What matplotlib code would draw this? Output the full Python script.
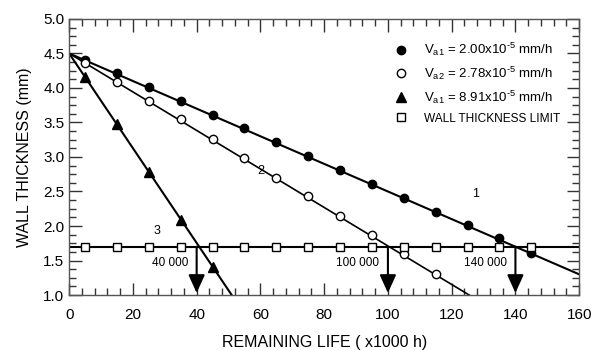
import matplotlib
matplotlib.use("Agg")
import matplotlib.pyplot as plt
from matplotlib.ticker import MultipleLocator

plt.rcParams['font.family'] = ['Liberation Sans', 'DejaVu Sans']
plt.rcParams['mathtext.fontset'] = 'custom'
plt.rcParams['mathtext.rm'] = 'Liberation Sans'
plt.rcParams['mathtext.it'] = 'Liberation Sans'

# data
x_pts = [5, 15, 25, 35, 45, 55, 65, 75, 85, 95, 105, 115, 125, 135, 145]
s1_y = [4.40, 4.21, 4.01, 3.81, 3.61, 3.42, 3.21, 3.01, 2.81, 2.61, 2.41, 2.21, 2.01, 1.82, 1.61]
s2_x = [5, 15, 25, 35, 45, 55, 65, 75, 85, 95, 105, 115]
s2_y = [4.36, 4.09, 3.81, 3.55, 3.26, 2.98, 2.70, 2.43, 2.15, 1.87, 1.59, 1.31]
s3_x = [5, 15, 25, 35, 45]
s3_y = [4.16, 3.48, 2.78, 2.09, 1.41]
limit_y = [1.7] * len(x_pts)

line1_x, line1_y = [0, 160], [4.5, 1.3]
line2_x, line2_y = [0, 125.5], [4.5, 1.0]
line3_x, line3_y = [0, 51], [4.5, 1.0]
limit_line_x, limit_line_y = [0, 160], [1.7, 1.7]

arrow_x = [40, 100, 140]
arrow_labels = ["40 000", "100 000", "140 000"]
curve_labels = ["1", "2", "3"]
curve_label_x = [127.5, 60, 27.5]
curve_label_y = [2.47, 2.80, 1.93]

legend_labels = [r"V$_{\mathregular{a1}}$ = 2.00x10$^{\mathregular{\text{-}5}}$ mm/h",
                 r"V$_{\mathregular{a2}}$ = 2.78x10$^{\mathregular{\text{-}5}}$ mm/h",
                 r"V$_{\mathregular{a1}}$ = 8.91x10$^{\mathregular{\text{-}5}}$ mm/h",
                 "WALL THICKNESS LIMIT"]

fig = plt.figure(figsize=(5.91, 3.5), dpi=100)
ax = fig.add_axes([0.117, 0.157, 0.863, 0.789])

lw = 1.5
ax.plot(line1_x, line1_y, color='black', lw=lw, zorder=2)
ax.plot(line2_x, line2_y, color='black', lw=1.2, zorder=2)
ax.plot(line3_x, line3_y, color='black', lw=lw, zorder=2)
ax.plot(limit_line_x, limit_line_y, color='black', lw=lw, zorder=2)

h1, = ax.plot(x_pts, s1_y, 'o', color='black', ms=6, zorder=3)
h2, = ax.plot(s2_x, s2_y, 'o', mfc='white', mec='black', mew=1.0, ms=6, zorder=3)
h3, = ax.plot(s3_x, s3_y, '^', color='black', ms=6.5, zorder=3)
h4, = ax.plot(x_pts, limit_y, 's', mfc='white', mec='black', mew=1.0, ms=5.5, zorder=3)

for xa, lab in zip(arrow_x, arrow_labels):
    ax.annotate("", xy=(xa, 1.03), xytext=(xa, 1.7),
                arrowprops=dict(arrowstyle='-|>,head_length=0.55,head_width=0.25',
                                mutation_scale=20,
                                color='black', lw=1.5, shrinkA=0, shrinkB=0), zorder=4)
    ax.text(xa - 2.7, 1.46, lab, ha='right', va='center', fontsize=8.5)

for lab, lx, ly in zip(curve_labels, curve_label_x, curve_label_y):
    ax.text(lx, ly, lab, ha='center', va='center', fontsize=9)

ax.set_xlim(0, 160)
ax.set_ylim(1.0, 5.0)
ax.xaxis.set_major_locator(MultipleLocator(20))
ax.xaxis.set_minor_locator(MultipleLocator(4))
ax.yaxis.set_major_locator(MultipleLocator(0.5))
ax.yaxis.set_minor_locator(MultipleLocator(0.125))
ax.yaxis.set_major_formatter(matplotlib.ticker.FormatStrFormatter('%.1f'))
ax.tick_params(which='both', direction='in', top=True, right=True, color='#333333')
ax.tick_params(which='major', length=9, width=1, labelsize=11)
ax.tick_params(which='minor', length=5, width=1)
ax.tick_params(axis='x', which='major', pad=9)
for s in ax.spines.values():
    s.set_color('#555555')
    s.set_linewidth(1.0)

ax.set_xlabel("REMAINING LIFE ( x1000 h)", fontsize=11.5, labelpad=10)
ax.set_ylabel("WALL THICKNESS (mm)", fontsize=11.5, labelpad=8)

leg = ax.legend([h1, h2, h3, h4], legend_labels, loc='upper right', frameon=False,
                fontsize=9.5, handletextpad=1.2,
                borderaxespad=0, borderpad=0, labelspacing=0.5,
                bbox_to_anchor=(0.962, 0.92), handlelength=1.0)
leg.get_texts()[3].set_fontsize(8.6)

fig.savefig("out.png", dpi=100)
